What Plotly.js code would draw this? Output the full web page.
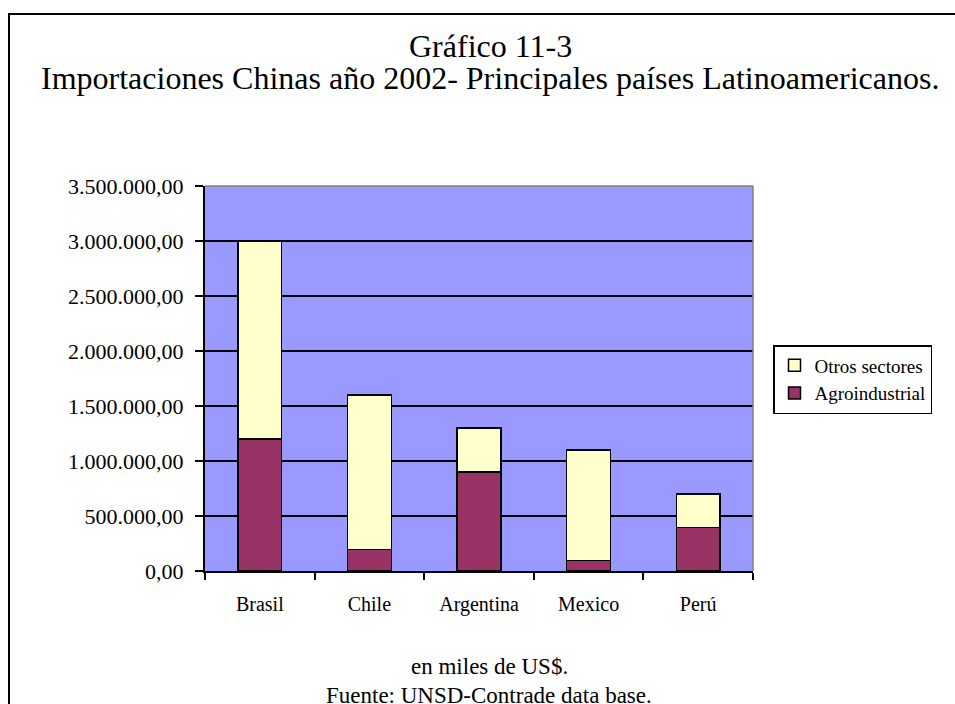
<!DOCTYPE html>
<html>
<head>
<meta charset="utf-8">
<script src="https://cdn.plot.ly/plotly-3.0.1.min.js"></script>
<style>
  html, body { margin: 0; padding: 0; background: #ffffff; }
  #chart { width: 955px; height: 704px; }
</style>
</head>
<body>
<div id="chart"></div>
<script>
// Chinese imports from the main Latin American countries, 2002 (thousands of US$)
const paises = ['Brasil', 'Chile', 'Argentina', 'Mexico', 'Perú'];
const agroindustrial = [1200000, 195000, 900000, 95000, 395000];
const otrosSectores = [1800000, 1405000, 400000, 1005000, 305000];
const yTicks = [0, 500000, 1000000, 1500000, 2000000, 2500000, 3000000, 3500000];

const serif = 'Liberation Serif';

// plot area in pixels: x 205..753, y 186..571
const L = 205, R = 753, T = 186, B = 571;
const px = x => (x - L) / (R - L);
const py = y => (B - y) / (B - T);

const traces = [
  {
    type: 'bar',
    name: 'Agroindustrial',
    x: paises,
    y: agroindustrial,
    marker: { color: '#993366', line: { color: '#000000', width: 1.5 } }
  },
  {
    type: 'bar',
    name: 'Otros sectores',
    x: paises,
    y: otrosSectores,
    marker: { color: '#FFFFCC', line: { color: '#000000', width: 1.5 } }
  }
];

const txt = (text, x, y, size) => ({
  text: text, xref: 'paper', yref: 'paper', x: px(x), y: py(y),
  xanchor: 'center', yanchor: 'middle', showarrow: false,
  font: { family: serif, size: size, color: '#000000' }
});

const layout = {
  width: 955,
  height: 704,
  margin: { l: L, r: 955 - R, t: T, b: 704 - B, pad: 0 },
  paper_bgcolor: '#ffffff',
  plot_bgcolor: '#9999FF',
  barmode: 'stack',
  bargap: 0.6,
  separators: ',.',
  font: { family: serif, size: 20, color: '#000000' },
  showlegend: true,
  legend: {
    x: px(773), y: py(345), xanchor: 'left', yanchor: 'top',
    traceorder: 'reversed',
    bgcolor: '#ffffff', bordercolor: '#000000', borderwidth: 1.5,
    font: { family: serif, size: 19, color: '#000000' },
    itemwidth: 30, tracegroupgap: 0
  },
  xaxis: {
    type: 'category',
    showline: true, linecolor: '#000000', linewidth: 2,
    ticks: 'outside', tickson: 'boundaries', ticklen: 7, tickwidth: 2, tickcolor: '#000000',
    ticklabelstandoff: 14,
    showgrid: false, zeroline: false,
    tickfont: { family: serif, size: 20, color: '#000000' }
  },
  yaxis: {
    range: [0, 3500000],
    tickvals: yTicks,
    tickformat: ',.2f',
    showline: true, linecolor: '#000000', linewidth: 2,
    ticks: 'outside', ticklen: 8, tickwidth: 2, tickcolor: '#000000',
    ticklabelstandoff: 7,
    showgrid: true, gridcolor: '#000000', gridwidth: 1.5,
    zeroline: false,
    tickfont: { family: serif, size: 22, color: '#000000' }
  },
  shapes: [
    // grey top and right edges of the plot area
    { type: 'line', xref: 'paper', yref: 'paper', x0: 0, x1: 1, y0: 1, y1: 1,
      line: { color: '#808080', width: 1.5 } },
    { type: 'line', xref: 'paper', yref: 'paper', x0: 1, x1: 1, y0: 0, y1: 1,
      line: { color: '#808080', width: 1.5 } },
    // outer frame of the figure
    { type: 'rect', xref: 'paper', yref: 'paper',
      x0: px(9), x1: px(971), y0: py(14), y1: py(740),
      line: { color: '#000000', width: 2 }, fillcolor: 'rgba(0,0,0,0)' }
  ],
  annotations: [
    txt('Gráfico 11-3', 490, 45.5, 32),
    txt('Importaciones Chinas año 2002- Principales países Latinoamericanos.', 490, 78, 32),
    txt('en miles de US$.', 489, 666, 23),
    txt('Fuente: UNSD-Contrade data base.', 489, 695, 23)
  ]
};

Plotly.newPlot('chart', traces, layout, { staticPlot: true, displayModeBar: false });
</script>
</body>
</html>
